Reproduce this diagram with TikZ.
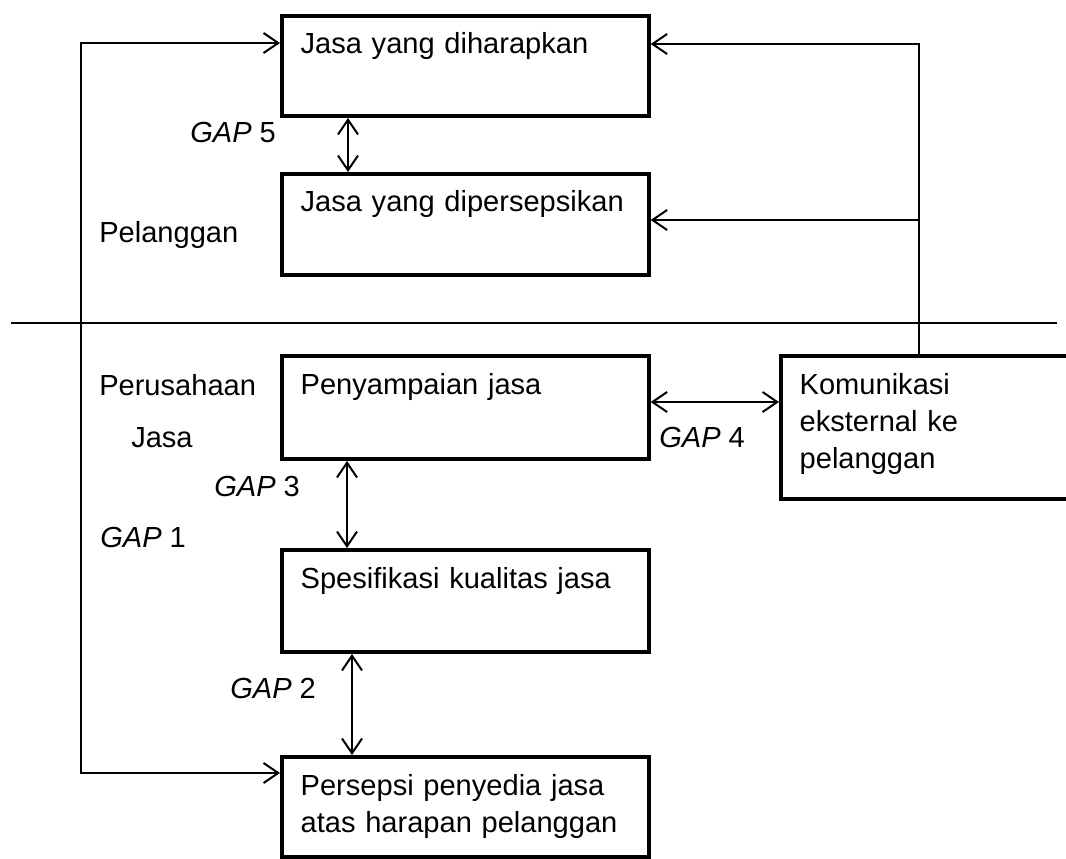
\documentclass[tikz,border=0pt]{standalone}
\usepackage{fontspec}
\setmainfont{Liberation Sans}
\usetikzlibrary{arrows.meta}
\tikzset{
  kotak/.style 2 args={draw, line width=3pt, anchor=north west, align=left,
    inner xsep=14pt, inner ysep=0pt, text height=28.5pt, text width=#1, text depth=#2},
  ket/.style={anchor=base west, inner sep=0pt},
  garis/.style={line width=1.5pt}
}

\begin{document}
\begin{tikzpicture}[x=0.75pt,y=-0.75pt,>={Straight Barb[length=11pt,width=15pt]},
    font=\fontsize{21.8}{27.75}\selectfont]
  \useasboundingbox (0,0) rectangle (1066,859);
  \node[kotak={247pt}{46.5pt}] (harap) at (280,14) {Jasa yang diharapkan};
  \node[kotak={247pt}{47.25pt}] (dipersepsi) at (280,172) {Jasa yang dipersepsikan};
  \node[kotak={247pt}{48.75pt}] (penyampaian) at (280,354) {Penyampaian jasa};
  \node[kotak={247pt}{48pt}] (spesifikasi) at (280,548) {Spesifikasi kualitas jasa};
  \node[kotak={247pt}{46.5pt}] (persepsi) at (280,755) {Persepsi penyedia jasa\\atas harapan pelanggan};
  \node[kotak={197pt}{78.75pt}] (komunikasi) at (779,354) {Komunikasi\\eksternal ke\\pelanggan};

  \node[ket] (gap5) at (190,143) {\textit{GAP} 5};
  \node[ket] (pelanggan) at (99,243) {Pelanggan};
  \node[ket] (perusahaan) at (99,395) {Perusahaan};
  \node[ket] (jasa) at (131,447) {Jasa};
  \node[ket] (gap3) at (214,496) {\textit{GAP} 3};
  \node[ket] (gap1) at (100,547) {\textit{GAP} 1};
  \node[ket] (gap4) at (659,447) {\textit{GAP} 4};
  \node[ket] (gap2) at (230,698) {\textit{GAP} 2};

  \coordinate (batasA) at (11,323);
  \coordinate (batasB) at (1057,323);
  \coordinate (kiri) at (81,43);
  \coordinate (bawah) at (81,773);
  \coordinate (kanan) at (919,44);
  \coordinate (cabang) at (919,220);

  \draw[garis] (batasA) -- (batasB);
  \draw[garis,<->] (kiri -| harap.west) -- (kiri) -- (bawah) -- (bawah -| persepsi.west);
  \draw[garis,->] (komunikasi.north -| kanan) -- (kanan) -- (kanan -| harap.east);
  \draw[garis,->] (cabang) -- (cabang -| dipersepsi.east);
  \draw[garis,<->] (harap.south -| 348,0) -- (dipersepsi.north -| 348,0);
  \draw[garis,<->] (penyampaian.south -| 347,0) -- (spesifikasi.north -| 347,0);
  \draw[garis,<->] (spesifikasi.south -| 352,0) -- (persepsi.north -| 352,0);
  \draw[garis,<->] (penyampaian.east |- 0,402) -- (komunikasi.west |- 0,402);
\end{tikzpicture}
\end{document}
